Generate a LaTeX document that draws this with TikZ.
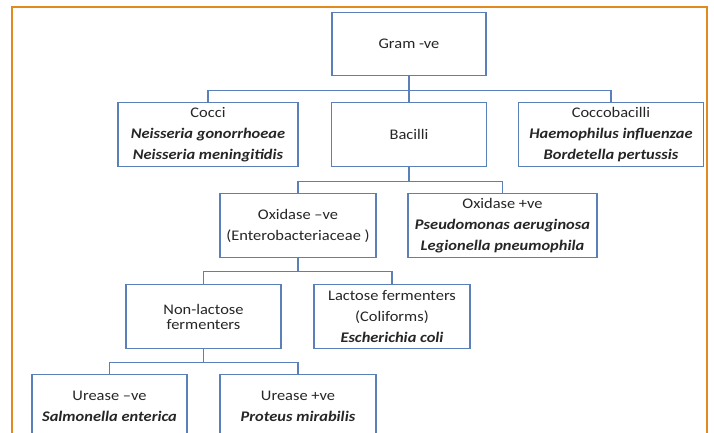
\documentclass[tikz,border=0pt]{standalone}
\usepackage{fontspec}
\setmainfont{Carlito}[FakeStretch=1.12]
\usetikzlibrary{positioning}
\definecolor{boxblue}{HTML}{5B80B9}
\definecolor{frameorange}{HTML}{E38A1E}
\newcommand{\spp}[1]{\textbf{\textit{#1}}}

\begin{document}
\begin{tikzpicture}[x=0.75pt,y=-0.75pt]
      \tikzstyle{every node}=[font=\fontsize{11}{15.75}\selectfont,text=black!85]
      \tikzstyle{box}=[draw=boxblue,line width=1.1pt,fill=white,align=center,anchor=north,inner sep=0pt,minimum height=48pt]
      \tikzstyle{link}=[draw=boxblue,line width=1.1pt]

      \useasboundingbox (0,0) rectangle (714,432);
      \clip (0,0) rectangle (714,432);
      \draw[frameorange,line width=1.5pt] (12,7) rectangle (707,470);

      \node[box,minimum width=115.5pt,minimum height=47.25pt] (gram) at (409,12) {Gram -ve};

      \node[box,minimum width=135pt]    (cocci)  at (208,102) {Cocci\\\spp{Neisseria gonorrhoeae}\\\spp{Neisseria meningitidis}};
      \node[box,minimum width=116.25pt] (bacil)  at (409,102) {Bacilli};
      \node[box,minimum width=139pt]    (cocco)  at (611,102) {Coccobacilli\\\spp{Haemophilus influenzae}\\\spp{Bordetella pertussis}};

      \node[box,minimum width=117pt]    (oxneg)  at (298,193) {Oxidase –ve\\(Enterobacteriaceae )};
      \node[box,minimum width=141.75pt] (oxpos)  at (502.5,193) {Oxidase +ve\\\spp{Pseudomonas aeruginosa}\\\spp{Legionella pneumophila}};

      \node[box,minimum width=116.25pt,font=\fontsize{11}{11.25}\selectfont] (nonlac) at (203.5,284) {Non-lactose\\fermenters};
      \node[box,minimum width=117pt]    (lac)    at (392,284) {Lactose fermenters\\(Coliforms)\\\spp{Escherichia coli}};

      \node[box,minimum width=116.25pt] (ureneg) at (109.5,374) {Urease –ve\\\spp{Salmonella enterica}};
      \node[box,minimum width=117pt]    (urepos) at (298,374) {Urease +ve\\\spp{Proteus mirabilis}};

      % tree connectors
      \draw[link] (gram.south) -- ++(0,14) coordinate (j1);
      \draw[link] (j1) -| (cocci.north);
      \draw[link] (j1) -| (cocco.north);
      \draw[link] (j1) -- (bacil.north);

      \draw[link] (bacil.south) -- ++(0,14) coordinate (j2);
      \draw[link] (j2) -| (oxneg.north);
      \draw[link] (j2) -| (oxpos.north);

      \draw[link] (oxneg.south) -- ++(0,13) coordinate (j3);
      \draw[link] (j3) -| (nonlac.north);
      \draw[link] (j3) -| (lac.north);

      \draw[link] (nonlac.south) -- ++(0,13) coordinate (j4);
      \draw[link] (j4) -| (ureneg.north);
      \draw[link] (j4) -| (urepos.north);
    \end{tikzpicture}
\end{document}
